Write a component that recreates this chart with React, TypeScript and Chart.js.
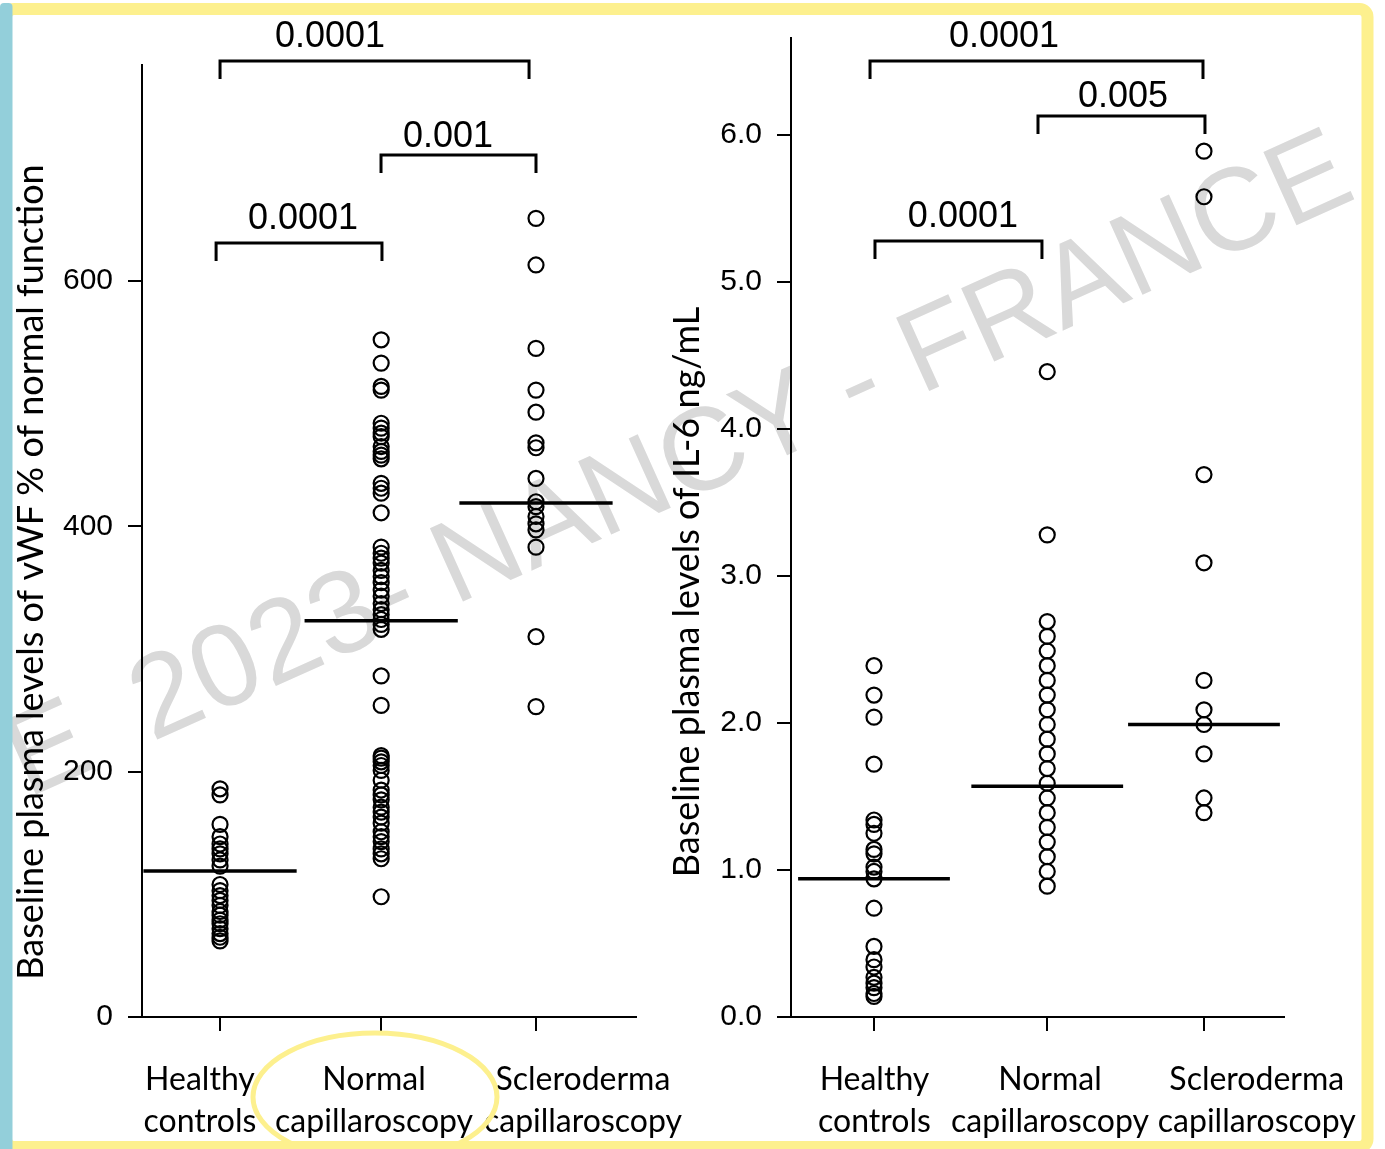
import React, { useEffect, useRef } from 'react';
import Chart from 'chart.js/auto';

// ---------- data ----------
const categories: string[][] = [
  ['Healthy', 'controls'],
  ['Normal', 'capillaroscopy'],
  ['Scleroderma', 'capillaroscopy'],
];

const vwfHealthy = [186, 181, 157, 147, 141, 137, 133, 128, 123, 108, 103, 99, 95, 91, 86, 83, 79, 76, 72, 68, 65, 62];
const vwfNormal = [
  552, 533, 514, 511, 484, 480, 476, 473, 465, 461, 458, 455, 435, 431, 427, 411,
  383, 378, 374, 370, 364, 359, 354, 348, 343, 337, 332, 328, 324, 320, 316, 278, 254,
  213, 211, 208, 205, 201, 193, 185, 181, 177, 171, 167, 163, 158, 151, 147, 143, 137, 133, 129, 98,
];
const vwfScleroderma = [651, 613, 545, 511, 493, 468, 464, 439, 420, 416, 408, 402, 397, 383, 310, 253];
const vwfMedians = [119, 323, 419];
const vwfTicks = [0, 200, 400, 600];
const vwfBrackets = [
  { from: 0, to: 1.956, level: 779.3, labelAt: 0.696, labelLevel: 790.7, text: '0.0001' },
  { from: 1.019, to: 2, level: 702.7, labelAt: 1.443, labelLevel: 709.2, text: '0.001' },
  { from: -0.025, to: 1.025, level: 631.0, labelAt: 0.525, labelLevel: 642.4, text: '0.0001' },
];

const il6Healthy = [2.39, 2.19, 2.04, 1.72, 1.34, 1.31, 1.25, 1.14, 1.11, 1.02, 0.99, 0.94, 0.74, 0.48, 0.39, 0.34, 0.27, 0.23, 0.2, 0.16, 0.14];
const il6Normal = [4.39, 3.28, 2.69, 2.59, 2.49, 2.39, 2.29, 2.19, 2.09, 1.99, 1.89, 1.79, 1.69, 1.59, 1.49, 1.39, 1.29, 1.19, 1.09, 0.99, 0.89];
const il6Scleroderma = [5.89, 5.58, 3.69, 3.09, 2.29, 2.09, 1.99, 1.79, 1.49, 1.39];
const il6Medians = [0.94, 1.57, 1.99];
const il6Ticks = [0, 1, 2, 3, 4, 5, 6];
const il6Brackets = [
  { from: -0.024, to: 1.994, level: 6.503, labelAt: 0.788, labelLevel: 6.599, text: '0.0001' },
  { from: 0.994, to: 2.006, level: 6.129, labelAt: 1.509, labelLevel: 6.19, text: '0.005' },
  { from: 0.006, to: 1.018, level: 5.279, labelAt: 0.539, labelLevel: 5.374, text: '0.0001' },
];

const vwfTitle = 'Baseline plasma levels of vWF % of normal function';
const il6Title = 'Baseline plasma levels of IL-6 ng/mL';

// ---------- drawing helpers ----------
const TICK_FONT = "'Liberation Sans', Arial, sans-serif";
const LABEL_FONT = "Lato, 'Open Sans', sans-serif";

const decorPlugin = {
  id: 'decor',
  afterDraw(chart: any, _args: any, opts: any) {
    const { ctx } = chart;
    const xs = chart.scales.x;
    const ys = chart.scales.y;
    ctx.save();
    ctx.strokeStyle = '#000';
    ctx.fillStyle = '#000';
    ctx.lineWidth = 3;
    ctx.lineCap = 'butt';
    ctx.lineJoin = 'miter';
    ctx.font = `36px ${TICK_FONT}`;
    ctx.textAlign = 'center';
    ctx.textBaseline = 'alphabetic';
    for (const b of opts.brackets) {
      const x1 = xs.getPixelForValue(b.from);
      const x2 = xs.getPixelForValue(b.to);
      const yy = ys.getPixelForValue(b.level);
      ctx.beginPath();
      ctx.moveTo(x1, yy + 18);
      ctx.lineTo(x1, yy);
      ctx.lineTo(x2, yy);
      ctx.lineTo(x2, yy + 18);
      ctx.stroke();
      ctx.fillText(b.text, xs.getPixelForValue(b.labelAt), ys.getPixelForValue(b.labelLevel));
    }
    ctx.font = opts.titleFont;
    ctx.translate(opts.titleX, opts.titleY);
    ctx.rotate(-Math.PI / 2);
    ctx.fillText(opts.title, 0, 0);
    ctx.restore();
  },
};

interface Panel {
  width: number;
  height: number;
  areaLeft: number;
  padTop: number;
  padRight: number;
  padBottom: number;
  xMin: number;
  xMax: number;
  yMax: number;
  catPos: number[];
  labelPos: number[];
  medianHalf: number;
  groups: number[][];
  medians: number[];
  yTicks: number[];
  fmt: (v: number) => string;
  brackets: any[];
  title: string;
  titleX: number;
  titleY: number;
}

function buildConfig(p: Panel): any {
  const pointSets = p.groups.map((vals, i) => ({
    data: vals.map((v) => ({ x: p.catPos[i], y: v })),
    pointRadius: 7.5,
    pointBorderWidth: 2.2,
    borderColor: '#000',
    backgroundColor: 'rgba(0,0,0,0)',
    pointBackgroundColor: 'rgba(0,0,0,0)',
    showLine: false,
  }));
  const medianSets = p.medians.map((m, i) => ({
    data: [
      { x: p.catPos[i] - p.medianHalf, y: m },
      { x: p.catPos[i] + p.medianHalf, y: m },
    ],
    showLine: true,
    borderColor: '#000',
    borderWidth: 3.5,
    pointRadius: 0,
  }));
  return {
    type: 'scatter',
    data: { datasets: [...pointSets, ...medianSets] },
    options: {
      responsive: false,
      animation: false,
      devicePixelRatio: 1,
      events: [],
      layout: { padding: { left: 0, top: p.padTop, right: p.padRight, bottom: p.padBottom } },
      plugins: {
        legend: { display: false },
        tooltip: { enabled: false },
        decor: {
          brackets: p.brackets,
          title: p.title,
          titleX: p.titleX,
          titleY: p.titleY,
          titleFont: `36px ${LABEL_FONT}`,
        },
      },
      scales: {
        x: {
          type: 'linear',
          position: 'bottom',
          weight: 0,
          bounds: 'data',
          min: p.xMin,
          max: p.xMax,
          afterBuildTicks: (s: any) => {
            s.ticks = p.catPos.map((v) => ({ value: v }));
          },
          afterFit: (s: any) => {
            s.height = 42;
          },
          ticks: { display: false },
          grid: { drawOnChartArea: false, drawTicks: true, tickLength: 14, color: '#000', lineWidth: 2 },
          border: { display: true, color: '#000', width: 2 },
        },
        x2: {
          type: 'linear',
          position: 'bottom',
          weight: 1,
          bounds: 'data',
          min: p.xMin,
          max: p.xMax,
          afterBuildTicks: (s: any) => {
            s.ticks = p.labelPos.map((v) => ({ value: v }));
          },
          afterFit: (s: any) => {
            s.height = 80;
          },
          ticks: {
            autoSkip: false,
            maxRotation: 0,
            minRotation: 0,
            padding: 0,
            color: '#000',
            font: { family: LABEL_FONT, size: 32, lineHeight: 1.3 },
            callback: (_v: any, i: number) => categories[i],
          },
          grid: { display: false, drawTicks: false },
          border: { display: false },
        },
        y: {
          type: 'linear',
          position: 'left',
          bounds: 'data',
          min: 0,
          max: p.yMax,
          afterBuildTicks: (s: any) => {
            s.ticks = p.yTicks.map((v) => ({ value: v }));
          },
          afterFit: (s: any) => {
            s.width = p.areaLeft;
          },
          ticks: {
            padding: 15,
            color: '#000',
            font: { family: TICK_FONT, size: 30 },
            callback: (v: any) => p.fmt(Number(v)),
          },
          grid: { drawOnChartArea: false, drawTicks: true, tickLength: 14, color: '#000', lineWidth: 2 },
          border: { display: true, color: '#000', width: 2 },
        },
      },
    },
    plugins: [decorPlugin],
  };
}

const leftPanel: Panel = {
  width: 780,
  height: 1149,
  areaLeft: 142,
  padTop: 65,
  padRight: 780 - 636,
  padBottom: 10,
  xMin: -0.494,
  xMax: 2.633,
  yMax: 776,
  catPos: [0, 1.02, 2],
  labelPos: [-0.127, 0.975, 2.297],
  medianHalf: 0.485,
  groups: [vwfHealthy, vwfNormal, vwfScleroderma],
  medians: vwfMedians,
  yTicks: vwfTicks,
  fmt: (v) => String(v),
  brackets: vwfBrackets,
  title: vwfTitle,
  titleX: 43,
  titleY: 572,
};

const rightPanel: Panel = {
  width: 800,
  height: 1149,
  areaLeft: 151,
  padTop: 38,
  padRight: 800 - 644,
  padBottom: 10,
  xMin: -0.503,
  xMax: 2.485,
  yMax: 6.66,
  catPos: [0, 1.05, 2],
  labelPos: [0.003, 1.067, 2.32],
  medianHalf: 0.46,
  groups: [il6Healthy, il6Normal, il6Scleroderma],
  medians: il6Medians,
  yTicks: il6Ticks,
  fmt: (v) => v.toFixed(1),
  brackets: il6Brackets,
  title: il6Title,
  titleX: 59,
  titleY: 592,
};

function PanelChart({ panel, left }: { panel: Panel; left: number }) {
  const ref = useRef<HTMLCanvasElement | null>(null);
  useEffect(() => {
    if (!ref.current) return;
    const chart = new Chart(ref.current, buildConfig(panel));
    return () => chart.destroy();
  }, [panel]);
  return (
    <canvas
      ref={ref}
      width={panel.width}
      height={panel.height}
      style={{ position: 'absolute', left, top: 0, width: panel.width, height: panel.height }}
    />
  );
}

const YELLOW = '#FDF08E';
const BLUE = '#93CFDA';

export default function App() {
  return (
    <div
      style={{
        position: 'absolute',
        left: 0,
        top: 0,
        width: 1385,
        height: 1149,
        overflow: 'hidden',
        background: '#fff',
      }}
    >
      <svg width={1385} height={1149} style={{ position: 'absolute', left: 0, top: 0 }}>
        <g transform="translate(152,742) rotate(-24.3)" fill="#d9d9d9" fontFamily="'Liberation Sans', Arial, sans-serif" fontSize={117}>
          <text x={-137} y={0}>E</text>
          <text x={0} y={0}>2023- NANCY - FRANCE</text>
        </g>
      </svg>
      <PanelChart panel={leftPanel} left={0} />
      <PanelChart panel={rightPanel} left={640} />
      <svg width={1385} height={1149} style={{ position: 'absolute', left: 0, top: 0, pointerEvents: 'none' }}>
        <rect x={6} y={9} width={1361.5} height={1138} rx={8} fill="none" stroke={YELLOW} strokeWidth={12} />
        <rect x={0} y={3} width={12.5} height={1160} rx={4} fill={BLUE} />
        <ellipse cx={375} cy={1097} rx={122} ry={64} fill="none" stroke={YELLOW} strokeWidth={5} />
      </svg>
    </div>
  );
}
